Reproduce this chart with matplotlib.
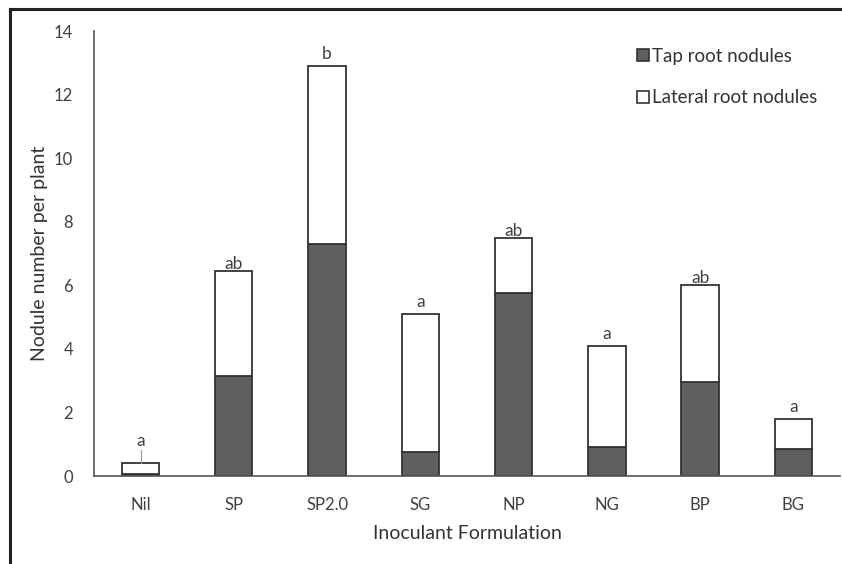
import numpy as np
import matplotlib.pyplot as plt
from matplotlib.lines import Line2D

formulations = ["Nil", "SP", "SP2.0", "SG", "NP", "NG", "BP", "BG"]
tap = [0.05, 3.15, 7.3, 0.75, 5.75, 0.9, 2.95, 0.85]
total = [0.42, 6.45, 12.9, 5.1, 7.5, 4.1, 6.0, 1.8]
lateral = [t - p for t, p in zip(total, tap)]
letters = ["a", "ab", "b", "a", "ab", "a", "ab", "a"]

plt.rcParams['font.family'] = ['Lato', 'DejaVu Sans']
txt = '#404040'

fig = plt.figure(figsize=(8.42, 5.64), dpi=100)
ax = fig.add_axes([0.1116, 0.156, 0.886, 0.789])

x = np.arange(len(formulations))
ax.bar(x, tap, width=0.4, color='#5f5f5f', edgecolor='#333333', linewidth=1.3,
       label='Tap root nodules')
ax.bar(x, lateral, width=0.4, bottom=tap, color='white', edgecolor='#333333',
       linewidth=1.3, label='Lateral root nodules')

for i, (t, s) in enumerate(zip(total, letters)):
    if i == 0:
        # leader line from the letter down to the tiny bar
        ax.plot([i, i], [t, t + 0.4], color='#9a9a9a', lw=0.8)
        ax.text(i, t + 0.42, s, ha='center', va='bottom', fontsize=12.5, color=txt)
    elif s == 'ab':
        ax.text(i, t - 0.03, s, ha='center', va='bottom', fontsize=12.5, color=txt)
    else:
        ax.text(i, t + 0.12, s, ha='center', va='bottom', fontsize=12.5, color=txt)

ax.set_xlim(-0.5, len(formulations) - 0.5)
ax.set_ylim(0, 14)
ax.set_yticks(range(0, 15, 2))
ax.set_xticks(x)
ax.set_xticklabels(formulations)
ax.tick_params(length=0, labelsize=12, colors=txt)
ax.tick_params(axis='x', pad=15)
ax.tick_params(axis='y', pad=15)
for side in ['top', 'right']:
    ax.spines[side].set_visible(False)
for side in ['left', 'bottom']:
    ax.spines[side].set_color('#555555')
    ax.spines[side].set_linewidth(1.2)

ax.set_ylabel('Nodule number per plant', fontsize=14, color='#333333', labelpad=4)
ax.set_xlabel('Inoculant Formulation', fontsize=14, color='#333333', labelpad=9)

handles = [
    Line2D([], [], marker='s', ls='', markersize=9, markerfacecolor='#5f5f5f',
           markeredgecolor='#333333', markeredgewidth=1.2),
    Line2D([], [], marker='s', ls='', markersize=9, markerfacecolor='white',
           markeredgecolor='#333333', markeredgewidth=1.2),
]
leg = ax.legend(handles, ['Tap root nodules', 'Lateral root nodules'],
                loc='upper right', bbox_to_anchor=(0.992, 1.0), frameon=False,
                fontsize=13.5, handletextpad=0.05, labelspacing=1.3, handlelength=0.9)
for t in leg.get_texts():
    t.set_color('#333333')

# outer frame (top and left edges)
fig.add_artist(Line2D([10 / 842, 1], [1 - 9 / 564, 1 - 9 / 564],
                      transform=fig.transFigure, color='#222222', lw=2.2))
fig.add_artist(Line2D([10 / 842, 10 / 842], [0, 1 - 9 / 564],
                      transform=fig.transFigure, color='#222222', lw=2.2))

fig.savefig('out.png', dpi=100)
